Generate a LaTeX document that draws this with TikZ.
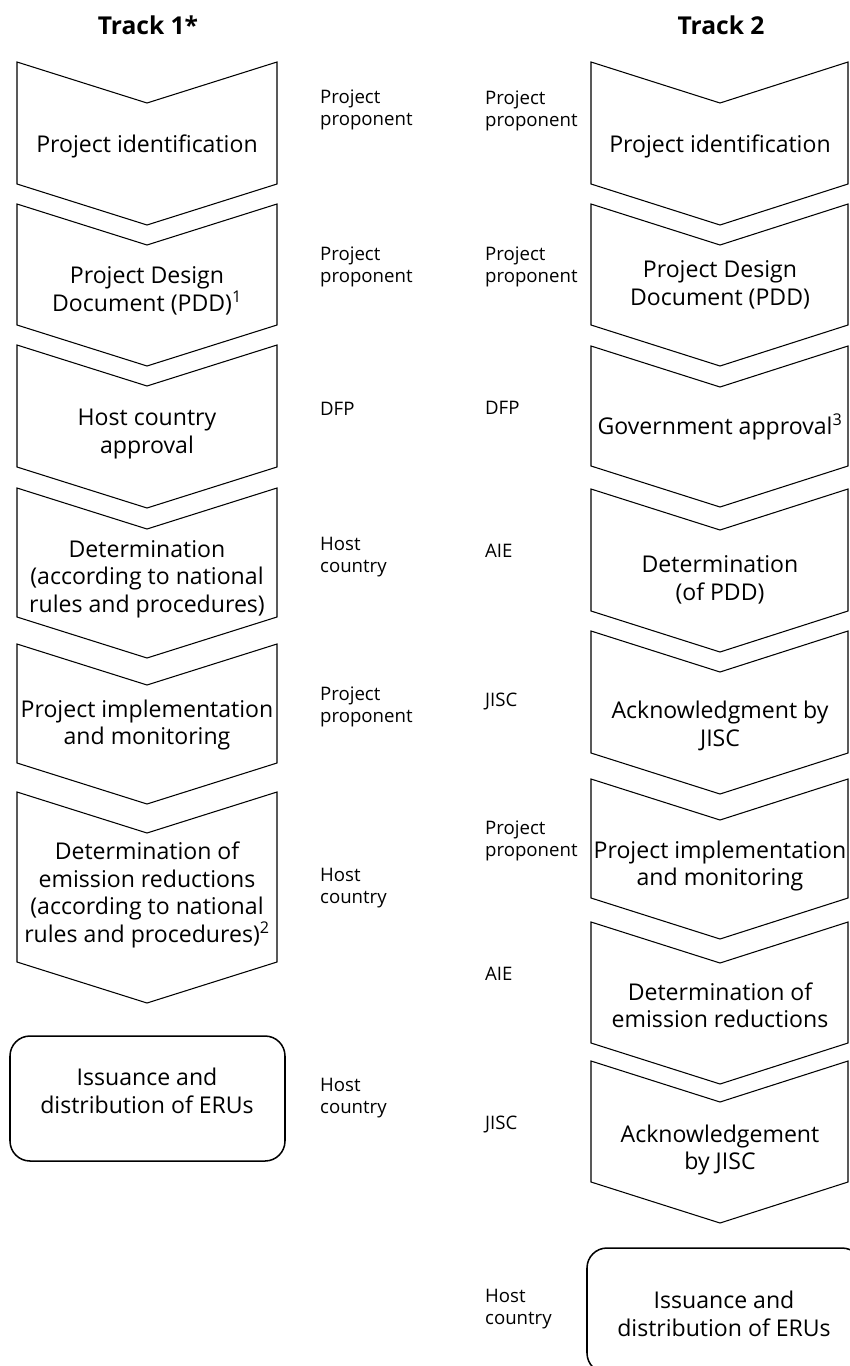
\documentclass[tikz,border=0pt]{standalone}
\usepackage{fontspec}
\setmainfont{Open Sans}
\begin{document}
\begin{tikzpicture}[x=0.03cm,y=-0.03cm,
        txt/.style={align=center,font=\fontsize{19.7}{23.4}\selectfont},
        who/.style={anchor=west,align=left,font=\fontsize{15.9}{19.2}\selectfont},
        head/.style={font=\fontsize{21}{25}\selectfont\bfseries}]
    \useasboundingbox (0,0) rectangle (850,1366);
    \clip (0,0) rectangle (850,1366);
    % track 1
    \foreach \t/\b in {62/184,204/325,345/467,488/617,644/763,792/962}
        \draw[line width=0.9pt] (17,\t) -- (147,\t+41) -- (277,\t) -- (277,\b) -- (147,\b+41) -- (17,\b) -- cycle;
    \draw[line width=1.3pt,rounded corners=0.6cm] (10,1036) rectangle (285,1161);
    % track 2
    \foreach \t/\b in {62/184,204/325,346/466,489/611,631/753,779/898,922/1043,1061/1182}
        \draw[line width=0.9pt] (591,\t) -- (720,\t+41) -- (848,\t) -- (848,\b) -- (720,\b+41) -- (591,\b) -- cycle;
    \draw[line width=1.3pt,rounded corners=0.6cm] (587,1248) rectangle (862,1373);

    \node[head] (hA) at (148,25) {Track 1*};
    \node[head] (hB) at (721,25) {Track 2};

    \node[txt] (a1) at (147,146) {Project identification};
    \node[txt] (a2) at (147,291) {Project Design\\Document (PDD)\textsuperscript{1}};
    \node[txt] (a3) at (147,434) {Host country\\approval};
    \node[txt] (a4) at (147,579) {Determination\\(according to national\\rules and procedures)};
    \node[txt] (a5) at (147,725) {Project implementation\\and monitoring};
    \node[txt] (a6) at (147,895) {Determination of\\emission reductions\\(according to national\\rules and procedures)\textsuperscript{2}};
    \node[txt] (a7) at (147,1091) {Issuance and\\distribution of ERUs};

    \node[txt] (b1) at (720,146) {Project identification};
    \node[txt] (b2) at (720,285) {Project Design\\Document (PDD)};
    \node[txt] (b3) at (720,427) {Government approval\textsuperscript{3}};
    \node[txt] (b4) at (720,580) {Determination\\(of PDD)};
    \node[txt] (b5) at (720,726) {Acknowledgment by\\JISC};
    \node[txt] (b6) at (720,866) {Project implementation\\and monitoring};
    \node[txt] (b7) at (720,1005) {Determination of\\emission reductions};
    \node[txt] (b8) at (720,1150) {Acknowledgement\\by JISC};
    \node[txt] (b9) at (724,1314) {Issuance and\\distribution of ERUs};

    % who does it
    \node[who] (wa1) at (316,110) {Project\\proponent};
    \node[who] (wa2) at (316,267) {Project\\proponent};
    \node[who] (wa3) at (316,409) {DFP};
    \node[who] (wa4) at (316,557) {Host\\country};
    \node[who] (wa5) at (316,707) {Project\\proponent};
    \node[who] (wa6) at (316,888) {Host\\country};
    \node[who] (wa7) at (316,1098) {Host\\country};

    \node[who] (wb1) at (481,111) {Project\\proponent};
    \node[who] (wb2) at (481,267) {Project\\proponent};
    \node[who] (wb3) at (481,408) {DFP};
    \node[who] (wb4) at (481,551) {AIE};
    \node[who] (wb5) at (481,701) {JISC};
    \node[who] (wb6) at (481,841) {Project\\proponent};
    \node[who] (wb7) at (481,974) {AIE};
    \node[who] (wb8) at (481,1124) {JISC};
    \node[who] (wb9) at (481,1309) {Host\\country};
\end{tikzpicture}
\end{document}
